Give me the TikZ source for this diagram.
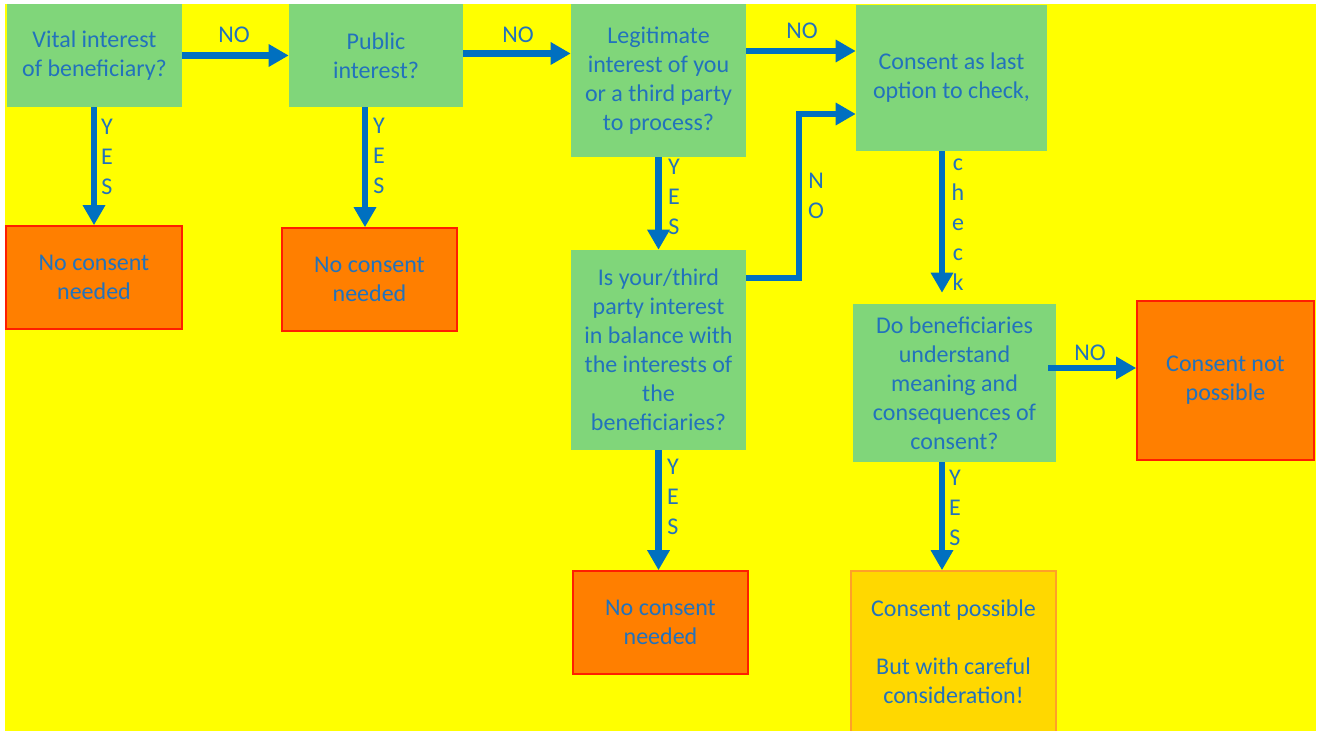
\documentclass[tikz,border=0pt]{standalone}
\usepackage{fontspec}
\setmainfont{Carlito}
\usetikzlibrary{arrows.meta,calc}
\definecolor{bgyellow}{RGB}{255,255,0}
\definecolor{boxgreen}{RGB}{128,214,122}
\definecolor{boxorange}{RGB}{255,127,0}
\definecolor{boxred}{RGB}{255,30,0}
\definecolor{boxgold}{RGB}{255,216,0}
\definecolor{goldedge}{RGB}{255,160,40}
\definecolor{txtblue}{RGB}{34,114,188}
\definecolor{arrblue}{RGB}{0,112,192}
\tikzset{
  basebox/.style={rectangle, inner sep=0pt, align=center, text=txtblue,
    font=\fontsize{18}{21.75}\selectfont},
  qbox/.style={basebox, fill=boxgreen},
  nobox/.style={basebox, fill=boxorange, draw=boxred, line width=1.2pt},
  okbox/.style={basebox, fill=boxgold, draw=goldedge, line width=1pt},
  flow/.style={draw=arrblue, line width=4.8pt, -{Triangle[length=15pt,width=16pt]}},
  lbl/.style={inner sep=0pt, align=center, text=txtblue,
    font=\fontsize{18}{22.5}\selectfont},
}
\begin{document}
\begin{tikzpicture}[x=0.75pt,y=-0.75pt]
\useasboundingbox (0,0) rectangle (1320,731);
\fill[white] (0,0) rectangle (1320,731);
\fill[bgyellow] (5,4) rectangle (1316,731);
\begin{scope}
\clip (0,0) rectangle (1320,731);
% question boxes
\node[qbox, minimum width=131.25pt, minimum height=77.25pt] (A) at (94.5,55.5) {Vital interest\\of beneficiary?};
\node[qbox, minimum width=130.5pt, minimum height=77.25pt] (B) at (376,55.5) {Public\\interest?};
\node[qbox, minimum width=131.25pt, minimum height=114.75pt] (C) at (658.5,80.5) {Legitimate\\interest of you\\or a third party\\to process?};
\node[qbox, minimum width=143.25pt, minimum height=109.5pt] (D) at (951.5,78) {Consent as last\\option to check,};
\node[qbox, minimum width=131.25pt, minimum height=150pt] (E) at (658.5,350) {Is your/third\\party interest\\in balance with\\the interests of\\the\\beneficiaries?};
\node[qbox, minimum width=152.25pt, minimum height=118.5pt] (F) at (954.5,383) {Do beneficiaries\\understand\\meaning and\\consequences of\\consent?};
% outcome boxes
\node[nobox, minimum width=132pt, minimum height=77.25pt] (R1) at (94,277.5) {No consent\\needed};
\node[nobox, minimum width=131.25pt, minimum height=77.25pt] (R2) at (369.5,279.5) {No consent\\needed};
\node[nobox, minimum width=131.25pt, minimum height=77.25pt] (R3) at (660.5,622.5) {No consent\\needed};
\node[nobox, minimum width=132.75pt, minimum height=119.25pt] (R4) at (1225.5,380.5) {Consent not\\possible};
\node[okbox, minimum width=153.75pt, minimum height=121pt] (G) at (953.5,651.5) {Consent possible\\[21.75pt]But with careful\\consideration!};
\end{scope}
% connectors
\draw[flow] (A.east) -- (B.west);
\coordinate (bo) at ($(B.east)+(0,-2)$);
\draw[flow] (bo) -- (bo -| C.west);
\coordinate (co) at ($(C.east)+(0,-29.5)$);
\draw[flow] (co) -- (co -| D.west);
\draw[flow] (A.south -| R1.north) -- (R1.north);
\coordinate (bs) at ($(B.south)+(-11,0)$);
\draw[flow] (bs) -- (bs |- R2.north);
\draw[flow] (C.south) -- (E.north);
\coordinate (eo) at ($(E.east)+(0,-72)$);
\coordinate (di) at ($(D.west)+(0,36)$);
\coordinate (bx) at (799,0);
\draw[flow] (eo) -- (eo -| bx) -- (bx |- di) -- (di);
\coordinate (ds) at ($(D.south)+(-9.5,0)$);
\coordinate (fn) at ($(F.north)+(0,-11)$);
\draw[flow] (ds) -- (ds |- fn);
\coordinate (fo) at ($(F.east)+(-8,-15)$);
\draw[flow] (fo) -- (fo -| R4.west);
\draw[flow] (E.south) -- (E.south |- R3.north);
\coordinate (fs) at ($(F.south)+(-12.5,0)$);
\draw[flow] (fs) -- (fs |- G.north);
% labels
\node[lbl] (no1) at (234,35) {NO};
\node[lbl] (no2) at (518,35) {NO};
\node[lbl] (no3) at (802,31) {NO};
\node[lbl] (no4) at (816,196) {N\\O};
\node[lbl] (no5) at (1090,353) {NO};
\node[lbl] (yes1) at (107,157) {Y\\E\\S};
\node[lbl] (yes2) at (379,156) {Y\\E\\S};
\node[lbl] (yes3) at (674,197) {Y\\E\\S};
\node[lbl] (yes4) at (673,497) {Y\\E\\S};
\node[lbl] (yes5) at (955,508) {Y\\E\\S};
\node[lbl] (chk) at (958,225) {c\\h\\e\\c\\k};
\end{tikzpicture}
\end{document}
